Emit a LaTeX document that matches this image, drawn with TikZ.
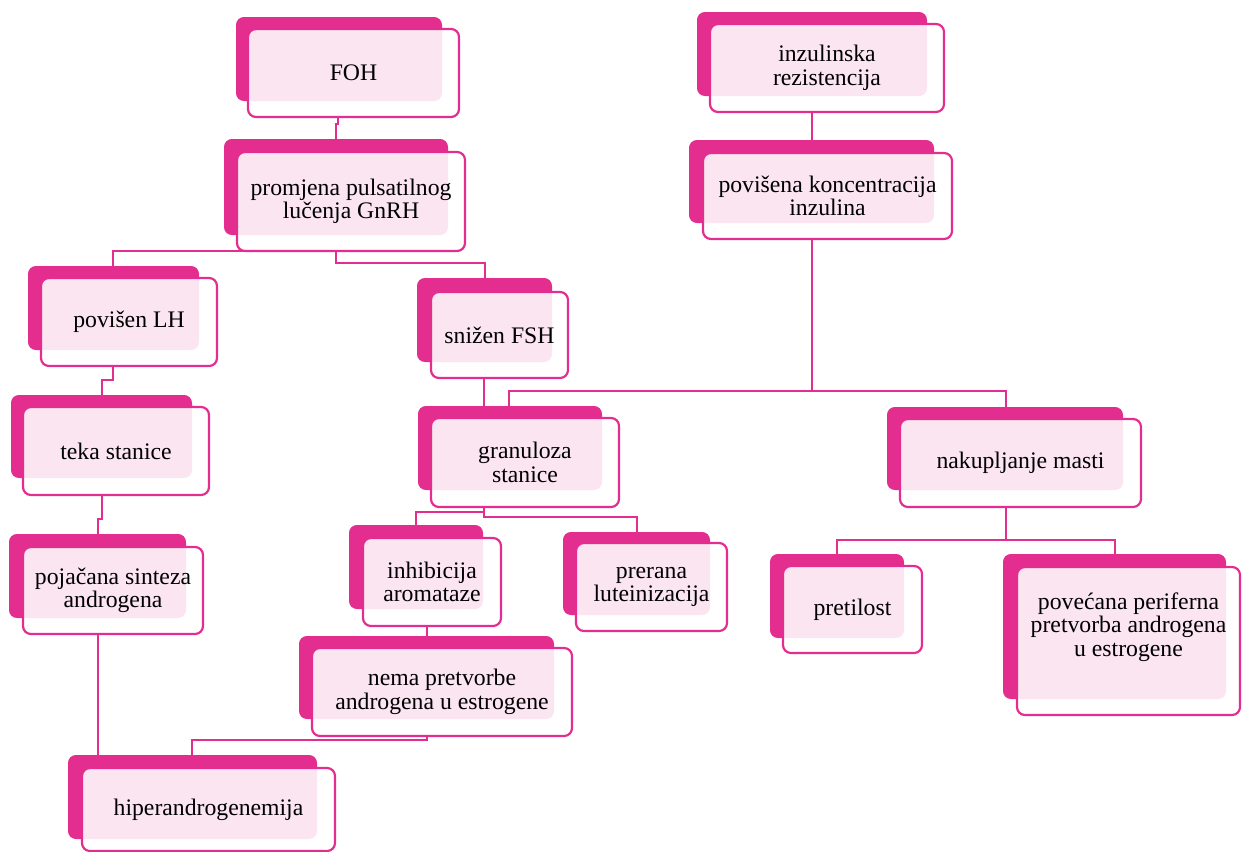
\documentclass[tikz,border=0pt]{standalone}
\usepackage{fontspec}
\setmainfont{Liberation Serif}
\usetikzlibrary{fit}
\definecolor{mag}{HTML}{E32E8F}
\pgfdeclarelayer{bg}
\pgfsetlayers{bg,main}
\tikzset{
  backbox/.style={rectangle, rounded corners=4.5pt, fill=mag, inner sep=0pt, outer sep=0pt},
  frontbox/.style={rectangle, rounded corners=4.5pt, fill=white, fill opacity=0.88, draw=mag, draw opacity=1, line width=1.25pt, inner sep=0pt, outer sep=0pt},
  boxtext/.style={align=center, inner sep=0pt, font=\fontsize{13.5}{13.4}\selectfont, text=black},
  conn/.style={draw=mag, line width=1.3pt}
}
% name, back corner 1, back corner 2, front corner 1, front corner 2, text, text options
\newcommand\pbox[7]{%
  \node[backbox, fit={(#2)(#3)}] (#1-b) {};
  \node[frontbox, fit={(#4)(#5)}] (#1) {};
  \node[boxtext, #7] (#1-t) at (#1.center) {#6};
}
\begin{document}
\begin{tikzpicture}[x=0.02cm, y=-0.02cm]
\useasboundingbox (0,0) rectangle (1242,852);

\pbox{foh}{236,17}{442,101}{248,29}{459,117}{FOH}{}
\pbox{prom}{224,139}{448,235}{237,152}{465,251}{promjena pulsatilnog\\lučenja GnRH}{}
\pbox{lh}{28,266}{199,350}{41,278}{217,366}{povišen LH}{}
\pbox{teka}{11,395}{192,478}{23,407}{209,495}{teka stanice}{}
\pbox{poj}{9,534}{186,618}{23,547}{203,634}{pojačana sinteza\\androgena}{}
\pbox{hiper}{68,755}{317,839}{82,768}{335,851}{hiperandrogenemija}{}
\pbox{fsh}{417,278}{552,362}{431,292}{568,378}{snižen FSH}{}
\pbox{gran}{418,406}{602,490}{431,418}{619,507}{granuloza\\stanice}{}
\pbox{inh}{349,525}{483,609}{363,538}{501,626}{inhibicija\\aromataze}{}
\pbox{nema}{299,636}{554,719}{312,648}{572,736}{nema pretvorbe\\androgena u estrogene}{}
\pbox{prer}{563,532}{710,615}{576,543}{727,631}{prerana\\luteinizacija}{}
\pbox{inz}{697,12}{927,96}{710,24}{944,112}{inzulinska\\rezistencija}{}
\pbox{pov}{689,140}{934,223}{703,153}{952,239}{povišena koncentracija\\inzulina}{}
\pbox{nak}{887,407}{1123,490}{900,419}{1141,507}{nakupljanje masti}{}
\pbox{pret}{770,554}{904,638}{783,566}{922,653}{pretilost}{}
\pbox{povc}{1003,554}{1226,699}{1017,567}{1240,715}{povećana periferna\\pretvorba androgena\\u estrogene}{yshift=8pt}

\begin{pgfonlayer}{bg}
\draw[conn] (foh.south -| 338,0) -- ++(0,7) -| (prom-b.north -| 336,0);
\draw[conn] (prom.south -| 336,0) -- (prom.south -| 113,0) -- (lh-b.north -| 113,0);
\draw[conn] (prom.south -| 336,0) -- ++(0,12) -| (fsh-b.north -| 485,0);
\draw[conn] (lh.south -| 113,0) -- ++(0,14) -| (teka-b.north -| 102,0);
\draw[conn] (teka.south -| 102,0) -- ++(0,24) -| (poj-b.north -| 98,0);
\draw[conn] (poj.south -| 98,0) -- (hiper-b.north -| 98,0);
\draw[conn] (fsh.south -| 484,0) -- (gran-b.north -| 484,0);
\draw[conn] (gran.south -| 484,0) -- ++(0,5) -| (inh-b.north -| 416,0);
\draw[conn] (gran.south -| 484,0) -- ++(0,10) -| (prer-b.north -| 637,0);
\draw[conn] (inh.south -| 427,0) -- (nema-b.north -| 427,0);
\draw[conn] (nema.south -| 427,0) -- ++(0,4) -| (hiper-b.north -| 192,0);
\draw[conn] (inz.south -| 812,0) -- (pov-b.north -| 812,0);
\draw[conn] (pov.south -| 812,0) -- ++(0,152) -| (gran-b.north -| 509,0);
\draw[conn] (pov.south -| 812,0) -- ++(0,152) -| (nak-b.north -| 1006,0);
\draw[conn] (nak.south -| 1006,0) -- ++(0,33) -| (pret-b.north -| 837,0);
\draw[conn] (nak.south -| 1006,0) -- ++(0,33) -| (povc-b.north -| 1115,0);
\end{pgfonlayer}
\end{tikzpicture}
\end{document}
